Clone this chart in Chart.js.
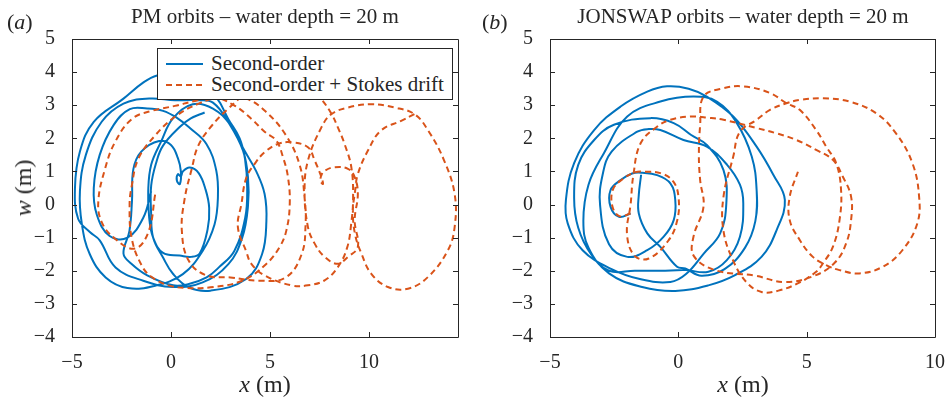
<!DOCTYPE html>
<html>
<head>
<meta charset="utf-8">
<script src="https://cdn.jsdelivr.net/npm/chart.js@4.4.1/dist/chart.umd.min.js"></script>
<style>
  html, body { margin: 0; padding: 0; background: #fff; }
  body { width: 951px; height: 402px; position: relative; overflow: hidden;
         font-family: "Liberation Serif", "DejaVu Serif", serif; color: #262626; }
  canvas { position: absolute; top: 0; }
  .lbl { position: absolute; line-height: 1; white-space: nowrap; }
  .legend { position: absolute; left: 157px; top: 48px; width: 294px; height: 50px;
            border: 1px solid #262626; background: #fff; }
  .legend .row { position: absolute; left: 8px; width: 280px; height: 22px; }
  .legend svg { position: absolute; left: 0; top: 9px; }
  .legend span { position: absolute; left: 45px; top: 0; font-size: 21px; line-height: 21px; white-space: nowrap; }
</style>
</head>
<body>
<canvas id="pm" width="475" height="402" style="left:0"></canvas>
<canvas id="js" width="476" height="402" style="left:475px"></canvas>

<div class="lbl" style="left:7px; top:11px; font-size:22px">(<i>a</i>)</div>
<div class="lbl" style="left:265px; top:6px; font-size:21px; transform:translateX(-50%)">PM orbits – water depth = 20 m</div>
<div class="lbl" style="left:482px; top:11px; font-size:22px">(<i>b</i>)</div>
<div class="lbl" style="left:743px; top:6px; font-size:21px; transform:translateX(-50%)">JONSWAP orbits – water depth = 20 m</div>
<div class="lbl" style="left:265px; top:372px; font-size:24px; transform:translateX(-50%)"><i>x</i> (m)</div>
<div class="lbl" style="left:743px; top:372px; font-size:24px; transform:translateX(-50%)"><i>x</i> (m)</div>
<div class="lbl" style="left:23px; top:188px; font-size:24px; transform:translate(-50%,-50%) rotate(-90deg)"><i>w</i> (m)</div>

<div class="legend">
  <div class="row" style="top:4px">
    <svg width="38" height="4"><line x1="0" y1="2" x2="37" y2="2" stroke="#0072BD" stroke-width="2"/></svg>
    <span>Second-order</span>
  </div>
  <div class="row" style="top:25px">
    <svg width="38" height="4"><line x1="0" y1="2" x2="37" y2="2" stroke="#D95319" stroke-width="2" stroke-dasharray="6,4"/></svg>
    <span>Second-order + Stokes drift</span>
  </div>
</div>

<script>
// ── Axis ticks ─────────────────────────────────────────────────
const pmXTicks = [-5, 0, 5, 10];
const jsXTicks = [-5, 0, 5, 10];
const wTicks   = [-4, -3, -2, -1, 0, 1, 2, 3, 4, 5];

// ── PM orbits, [x, w] in metres, in time order ─────────────────
const pmSecond = [
  [-1.0,0.4],[-1.4,-0.4],[-2.2,-1.0],[-3.1,-0.95],[-3.75,-0.3],[-3.9,0.5],[-3.6,1.5],[-2.9,2.4],[-2.08,2.88],
  [-1.2,2.9],[-0.4,2.83],[0.3,2.62],[0.94,2.32],[1.79,1.83],[2.29,1.02],[2.37,0.2],[2.2,-0.6],[1.6,-1.4],
  [0.6,-2.1],[-0.8,-2.45],[-2.2,-2.52],[-3.3,-2.2],[-4.1,-1.5],
  [-4.5,-0.6],[-4.6,0.4],[-4.3,1.5],[-3.5,2.5],[-2.4,3.05],[-1.1,3.2],[0.2,3.15],[1.3,3.15],[2.12,3.08],
  [2.96,2.43],[3.64,1.63],[3.89,0.83],[3.89,-0.05],[3.6,-1.0],[2.9,-1.8],[1.6,-2.35],[0.1,-2.49],[-1.4,-2.3],
  [-2.8,-1.9],[-3.6,-1.08],[-4.1,-0.83],[-4.69,-0.43],
  [-4.85,0.5],[-4.6,1.6],[-3.9,2.5],[-2.4,3.2],[-1.39,3.69],[-0.7,3.9],[0.3,3.95],[1.4,3.7],[2.3,3.23],
  [2.9,2.58],[3.47,2.0],[3.74,1.38],[3.85,0.5],[3.75,-0.4],[3.2,-1.4],[2.43,-1.89],[1.8,-2.2],[0.9,-2.4],
  [0.1,-2.44],[-1.2,-2.14],[-2.0,-1.79],[-2.4,-1.48],
  [-2.1,-0.8],[-1.97,0.1],[-1.9,1.07],[-1.5,1.6],[-0.6,1.92],[0.0,1.8],[0.35,1.4],[0.5,1.0],[0.45,0.62],
  [0.3,0.72],[0.35,0.92],[0.5,0.85],[0.6,1.0],[0.95,1.12],[1.4,0.95],[1.75,0.45],[1.93,-0.1],[1.85,-0.75],
  [1.45,-1.48],[1.03,-1.58],[0.44,-1.54],[-0.4,-1.46],[-0.9,-1.0],[-1.1,-0.4],[-1.15,0.4],[-1.0,1.2],
  [-0.5,1.9],[0.1,2.6],[1.1,3.03],[2.12,2.9],[3.0,2.4],[3.74,1.6],[4.31,1.0],[4.73,0.32],[4.82,-0.5],
  [4.6,-1.5],[3.8,-2.25],[2.0,-2.6],[0.9,-2.5],[0.1,-2.09],[-0.4,-1.6],[-0.9,-1.0],[-1.0,-0.3],[-1.0,0.57],
  [-0.74,1.28],[-0.4,1.78],[0.44,2.34],[1.0,2.6],[1.7,2.78]
];

const pmStokes = [
  [-0.8,0.3],[-1.14,-0.83],[-1.82,-1.33],[-2.83,-1.03],[-3.5,-0.53],[-3.67,0.1],[-3.33,1.08],[-2.83,1.88],
  [-1.98,2.58],[-0.97,2.83],[0.2,2.98],[1.21,3.13],[2.22,3.23],[3.23,2.98],[4.08,2.58],[4.73,2.2],[5.32,1.93],
  [5.66,1.43],[5.91,0.83],[6.0,0.02],[5.83,-0.78],[5.49,-1.28],[4.8,-1.8],[3.6,-2.3],[2.0,-2.5],[0.8,-2.52],
  [-0.13,-2.44],[-0.97,-2.19],[-1.48,-1.84],[-1.98,-1.03],
  [-2.09,0.0],[-1.98,0.57],[-1.65,1.38],[-0.81,2.08],[0.2,2.65],[1.4,3.05],[2.6,3.25],[3.8,3.2],[4.8,2.8],
  [5.8,2.1],[6.5,1.2],[6.75,0.2],[6.8,-0.6],[6.6,-1.5],[5.8,-2.2],[4.5,-2.3],[3.0,-2.2],[1.79,-2.14],
  [0.9,-1.7],[0.55,-0.8],
  [0.69,0.17],[1.05,1.08],[1.38,1.78],[2.06,2.38],[2.9,2.9],[3.9,3.4],[5.0,3.75],[6.2,3.8],[7.1,3.5],
  [7.6,3.18],[8.1,2.75],[8.43,2.33],[8.77,1.83],[9.11,1.13],[9.2,0.2],[9.1,-0.6],[8.9,-1.3],[8.43,-1.89],
  [7.76,-2.29],[6.92,-2.44],[6.08,-2.44],[4.73,-2.14],[4.06,-1.79],[3.81,-1.43],
  [3.38,-0.68],[3.56,0.02],[3.8,0.8],[4.23,1.23],[4.73,1.58],[5.4,1.83],[6.08,1.88],[6.92,1.73],[7.26,1.33],
  [7.6,0.83],[7.68,0.62],[7.55,0.72],[7.62,0.92],[7.76,1.02],[8.27,1.13],[8.94,1.08],[9.28,0.83],[9.44,0.32],
  [9.28,-0.48],[9.44,-1.28],[8.94,-1.58],[8.43,-1.79],[7.76,-1.58],[7.26,-1.18],[6.92,-0.68],[6.75,0.4],
  [6.92,1.33],[7.6,2.33],[8.1,2.73],[8.94,2.93],[10.1,3.03],[11.3,2.93],[12.3,2.73],[13.0,2.23],[13.8,1.33],
  [14.33,0.32],[14.33,-0.68],[13.99,-1.38],[12.98,-2.19],[11.97,-2.54],[10.96,-2.49],[10.12,-2.09],
  [9.62,-1.48],[9.3,-0.9],[9.19,-0.2],[9.3,0.4],[9.44,0.92],[9.95,1.63],[10.6,2.23],[11.63,2.53],[12.3,2.73]
];

// ── JONSWAP orbits, [x, w] in metres, in time order ────────────
const jsSecond = [
  [-1.86,-0.27],[-2.31,-0.37],[-2.64,-0.07],[-2.64,0.44],[-2.25,0.74],[-1.8,0.94],[-1.41,0.96],[-0.83,0.89],
  [-0.31,0.64],[-0.12,0.14],[-0.18,-0.47],[-0.57,-0.97],[-1.21,-1.38],[-1.99,-1.58],
  [-2.7,-1.2],[-3.05,0.0],[-2.95,0.9],[-2.6,1.6],[-1.6,2.2],[-1.15,2.28],[-0.7,2.25],[0.2,1.95],[1.11,1.75],
  [1.9,1.2],[2.4,0.6],[2.53,0.04],[2.4,-0.97],[1.89,-1.68],[1.17,-2.03],[0.27,-1.98],[-0.7,-2.0],[-1.7,-2.0],
  [-2.7,-2.0],[-3.4,-1.5],
  [-3.9,-0.7],[-4.06,0.2],[-3.9,1.2],[-3.28,1.95],[-2.51,2.41],[-1.09,2.61],[-0.18,2.46],[0.5,2.1],[1.11,1.8],
  [1.76,1.04],[1.87,0.04],[1.63,-0.87],[0.99,-1.48],[0.3,-2.1],[-0.31,-2.34],[-1.5,-2.25],[-2.6,-1.95],
  [-3.73,-1.38],
  [-4.31,-0.57],[-4.38,0.14],[-4.06,1.25],[-3.28,2.25],[-2.25,2.96],[-1.21,3.41],[-0.44,3.57],[0.4,3.5],
  [1.11,3.26],[2.14,2.66],[3.05,1.75],[3.7,0.9],[4.15,0.14],[3.83,-0.77],[3.24,-1.58],[2.21,-2.13],[1.17,-2.44],
  [-0.12,-2.61],[-1.41,-2.49],[-2.7,-2.08],[-3.5,-1.3],
  [-3.7,-0.5],[-3.5,0.6],[-2.9,1.55],[-1.99,2.66],[-0.7,3.11],[0.59,3.26],[1.5,3.11],[2.28,2.46],[2.86,1.45],
  [3.05,0.44],[3.0,-0.5],[2.6,-1.3],[1.8,-1.95],[0.9,-2.15],[0.27,-1.93],
  [-0.05,-1.88],[-0.7,-1.28],[-1.21,-0.87],[-1.54,-0.27],[-1.54,0.3],[-1.45,0.9]
];

const jsStokes = [
  [-1.86,-0.27],[-2.3,-0.35],[-2.57,-0.05],[-2.55,0.45],[-2.2,0.75],[-1.7,0.97],[-1.28,0.99],[-0.7,0.95],
  [-0.2,0.7],[0.01,0.2],[-0.05,-0.5],[-0.4,-1.1],[-1.15,-1.63],[-1.7,-1.55],[-2.0,-0.9],
  [-1.86,0.0],[-1.75,0.9],[-1.47,1.85],[-0.83,2.35],[-0.31,2.56],[0.47,2.66],[1.2,2.62],[1.76,2.56],
  [3.05,2.31],[3.83,2.15],[4.6,1.95],[5.37,1.65],[6.02,1.35],[6.41,0.84],[6.73,0.24],[6.73,-0.47],
  [6.54,-1.17],[6.1,-1.75],[5.3,-2.15],[4.15,-2.34],[3.0,-2.15],[1.43,-1.98],[0.6,-1.55],[0.59,-0.97],
  [0.98,-0.07],[0.85,0.74],[0.8,1.5],[0.85,2.4],[0.98,3.26],[1.7,3.5],[2.53,3.57],[3.57,3.37],[4.21,3.06],
  [4.73,2.86],[5.37,2.25],[5.76,1.75],[6.15,1.25],[6.34,0.44],[6.28,-0.47],[6.02,-1.28],[5.63,-1.78],
  [5.37,-2.03],[4.73,-2.35],[3.9,-2.6],[3.24,-2.64],[2.66,-2.35],[2.14,-1.7],[1.76,-0.8],[1.76,0.24],
  [2.14,1.45],[2.4,2.2],[3.05,2.56],[3.57,2.86],[4.21,3.06],[4.73,3.16],[5.63,3.21],[6.67,3.11],[7.7,2.76],
  [8.48,2.15],[9.12,1.25],[9.38,0.24],[9.31,-0.57],[8.73,-1.38],[7.96,-1.88],[7.05,-2.08],[6.28,-1.98],
  [5.76,-1.83],[5.24,-1.58],[4.73,-1.07],[4.34,-0.47],[4.34,0.24],[4.66,0.99]
];

// ── Style ──────────────────────────────────────────────────────
const AXIS_COLOR = '#262626';
const BLUE = '#0072BD';
const ORANGE = '#D95319';
const TICK_FONT = { family: '"Liberation Serif", "DejaVu Serif", serif', size: 20 };

const toPoints = arr => arr.map(p => ({ x: p[0], y: p[1] }));
const fmt = v => String(v).replace('-', '\u2212');

// box round the plot + inward ticks on all four sides (MATLAB look)
const framePlugin = {
    id: 'frame',
    afterDatasetsDraw(chart) {
        const { ctx, chartArea: a, scales: { x, y } } = chart;
        const t = 5;
        ctx.save();
        ctx.strokeStyle = AXIS_COLOR;
        ctx.lineWidth = 1;
        ctx.beginPath();
        ctx.rect(Math.round(a.left) + 0.5, Math.round(a.top) + 0.5,
                 Math.round(a.right - a.left), Math.round(a.bottom - a.top));
        x.ticks.forEach(tk => {
            const px = Math.round(x.getPixelForValue(tk.value)) + 0.5;
            ctx.moveTo(px, a.bottom); ctx.lineTo(px, a.bottom - t);
            ctx.moveTo(px, a.top);    ctx.lineTo(px, a.top + t);
        });
        y.ticks.forEach(tk => {
            const py = Math.round(y.getPixelForValue(tk.value)) + 0.5;
            ctx.moveTo(a.left, py);  ctx.lineTo(a.left + t, py);
            ctx.moveTo(a.right, py); ctx.lineTo(a.right - t, py);
        });
        ctx.stroke();
        ctx.restore();
    },
};

function orbitDataset(label, points, color, dash, order) {
    return {
        label,
        data: toPoints(points),
        showLine: true,
        borderColor: color,
        borderWidth: 2,
        borderDash: dash,
        pointRadius: 0,
        tension: 0.4,
        order,
    };
}

function renderOrbitChart(canvasId, second, stokes, xMin, xMax, xTicks, area) {
    const canvas = document.getElementById(canvasId);
    return new Chart(canvas.getContext('2d'), {
        type: 'scatter',
        data: {
            datasets: [
                orbitDataset('Second-order', second, BLUE, [], 1),
                orbitDataset('Second-order + Stokes drift', stokes, ORANGE, [6, 4], 0),
            ],
        },
        options: {
            responsive: false,
            animation: false,
            layout: { padding: { left: 0, top: area.top, right: area.right, bottom: 0 } },
            plugins: { legend: { display: false }, tooltip: { enabled: false } },
            scales: {
                x: {
                    type: 'linear', min: xMin, max: xMax,
                    grid: { display: false }, border: { display: false },
                    afterBuildTicks: s => { s.ticks = xTicks.map(v => ({ value: v })); },
                    afterFit: s => { s.height = area.bottom; },
                    ticks: { color: AXIS_COLOR, font: TICK_FONT, padding: 6, maxRotation: 0,
                             callback: v => fmt(v) },
                },
                y: {
                    type: 'linear', min: -4, max: 5,
                    grid: { display: false }, border: { display: false },
                    afterBuildTicks: s => { s.ticks = wTicks.map(v => ({ value: v })); },
                    afterFit: s => { s.width = area.left; },
                    ticks: { color: AXIS_COLOR, font: TICK_FONT, padding: 9,
                             callback: v => fmt(v) },
                },
            },
        },
        plugins: [framePlugin],
    });
}

renderOrbitChart('pm', pmSecond, pmStokes, -5, 14.5, pmXTicks,
                 { left: 72, top: 39, right: 17, bottom: 65 });
renderOrbitChart('js', jsSecond, jsStokes, -5, 10, jsXTicks,
                 { left: 75, top: 39, right: 15, bottom: 65 });
</script>
</body>
</html>
